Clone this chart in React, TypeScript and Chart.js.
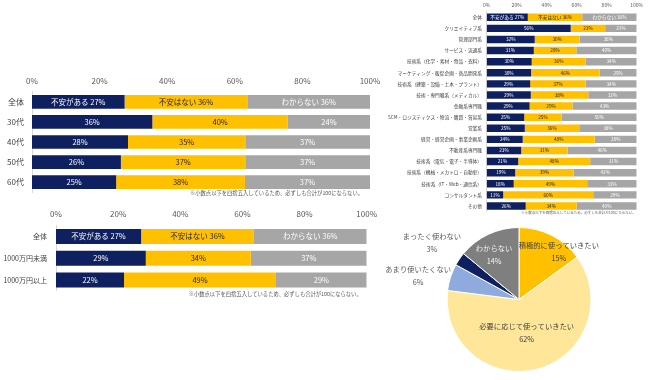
import React, { useEffect, useRef } from "react";
import { Chart, registerables } from "chart.js";

Chart.register(...registerables);

const FONT = '"Noto Sans CJK JP", "Noto Sans", sans-serif';

// ---- shared ----
const seriesNames = ["不安がある", "不安はない", "わからない"];
const seriesColors = ["#0F2060", "#FFC000", "#A6A6A6"];
const valueTextColors = ["#FFFFFF", "#262626", "#FFFFFF"];
const percentTicks = ["0%", "20%", "40%", "60%", "80%", "100%"];
const roundingNote = "※小数点以下を四捨五入しているため、必ずしも合計が100にならない。";

// ---- chart 1: by age ----
const ageCategories = ["全体", "30代", "40代", "50代", "60代"];
const ageAnxious = [27.4, 35.6, 28.4, 26.3, 24.9];
const ageNotAnxious = [36.3, 40.1, 34.7, 36.8, 38.1];
const ageUnknown = [36.3, 24.3, 36.9, 36.9, 37.0];

// ---- chart 2: by income ----
const incomeCategories = ["全体", "1000万円未満", "1000万円以上"];
const incomeAnxious = [27.4, 28.9, 21.9];
const incomeNotAnxious = [36.3, 33.8, 48.9];
const incomeUnknown = [36.3, 37.3, 29.2];

// ---- chart 3: by job type ----
const jobCategories = [
  "全体",
  "クリエイティブ系",
  "管理部門系",
  "サービス・流通系",
  "技術系（化学・素材・食品・衣料）",
  "マーケティング・販促企画・商品開発系",
  "技術系（建築・設備・土木・プラント）",
  "技術・専門職系（メディカル）",
  "金融系専門職",
  "SCM・ロジスティクス・物流・購買・貿易系",
  "営業系",
  "経営・経営企画・事業企画系",
  "不動産系専門職",
  "技術系（電気・電子・半導体）",
  "技術系（機械・メカトロ・自動車）",
  "技術系（IT・Web・通信系）",
  "コンサルタント系",
  "その他",
];
const jobAnxious = [27.4, 56, 32, 31.4, 30, 29.6, 29, 29.4, 28.6, 25, 25.4, 24, 23, 21, 19, 18, 11, 26];
const jobNotAnxious = [36.3, 23, 30, 28.4, 36, 45.7, 37, 38.3, 28.6, 25, 36.3, 48, 31, 48, 39, 49, 60, 34];
const jobUnknown = [36.3, 21, 38, 40.2, 34, 24.7, 34, 32.3, 42.8, 50, 38.3, 28, 46, 31, 42, 33, 29, 40];

// ---- chart 4: pie ----
const usageLabels = ["積極的に使っていきたい", "必要に応じて使っていきたい", "あまり使いたくない", "まったく使わない", "わからない"];
const usageValues = [15, 62, 6, 3, 14];
const usageColors = ["#FFC000", "#FFE699", "#8FAADC", "#0F2060", "#7F7F7F"];
const usageTextColors = ["#404040", "#404040", "#595959", "#595959", "#F2F2F2"];

const valueLabels = {
  id: "valueLabels",
  afterDatasetsDraw(chart: any, _args: any, opts: any) {
    const ctx = chart.ctx;
    ctx.save();
    ctx.font = `${opts.size}px ${FONT}`;
    ctx.textAlign = "center";
    ctx.textBaseline = "middle";
    chart.data.datasets.forEach((ds: any, di: number) => {
      const meta = chart.getDatasetMeta(di);
      meta.data.forEach((el: any, i: number) => {
        const p = el.getProps(["x", "y", "base"], true);
        const v = ds.data[i];
        const text = (i === 0 ? ds.label + " " : "") + Math.round(v) + "%";
        ctx.fillStyle = valueTextColors[di];
        ctx.fillText(text, (p.x + p.base) / 2, p.y);
      });
    });
    const area = chart.chartArea;
    ctx.font = `${opts.noteSize}px ${FONT}`;
    ctx.textAlign = "right";
    ctx.fillStyle = "#595959";
    ctx.fillText(roundingNote, area.right - opts.noteRight, area.bottom + opts.noteDy);
    ctx.restore();
  },
};

const pieLabels = {
  id: "pieLabels",
  afterDatasetsDraw(chart: any, _args: any, opts: any) {
    const ctx = chart.ctx;
    ctx.save();
    ctx.font = `${opts.size}px ${FONT}`;
    ctx.textAlign = "center";
    ctx.textBaseline = "middle";
    const meta = chart.getDatasetMeta(0);
    meta.data.forEach((el: any, i: number) => {
      const p = el.getProps(["x", "y", "startAngle", "endAngle", "outerRadius"], true);
      const [f, off] = opts.place[i];
      const a = (p.startAngle + p.endAngle) / 2 + (off * Math.PI) / 180;
      const cx = p.x + Math.cos(a) * p.outerRadius * f;
      const cy = p.y + Math.sin(a) * p.outerRadius * f;
      ctx.fillStyle = usageTextColors[i];
      ctx.fillText(chart.data.labels[i], cx, cy - opts.gap / 2);
      ctx.fillText(chart.data.datasets[0].data[i] + "%", cx, cy + opts.gap / 2);
    });
    ctx.restore();
  },
};

type BarSpec = {
  categories: string[];
  series: number[][];
  w: number;
  h: number;
  area: { left: number; top: number; right: number; bottom: number };
  tickSize: number;
  catSize: number;
  valSize: number;
  tickGap: number;
  catGap: number;
  bar: number;
  noteSize: number;
  noteDy: number;
  noteRight: number;
};

function makeBar(canvas: HTMLCanvasElement, s: BarSpec) {
  return new Chart(canvas, {
    type: "bar",
    data: {
      labels: s.categories,
      datasets: s.series.map((d, i) => ({
        label: seriesNames[i],
        data: d,
        backgroundColor: seriesColors[i],
        borderWidth: 0,
        barPercentage: s.bar,
        categoryPercentage: 1,
      })),
    },
    options: {
      indexAxis: "y",
      responsive: false,
      animation: false,
      devicePixelRatio: 1,
      layout: { padding: { left: 0, top: 0, right: s.w - s.area.right, bottom: s.h - s.area.bottom } },
      scales: {
        x: {
          position: "top",
          stacked: true,
          min: 0,
          max: 100,
          grid: { display: false, drawTicks: false },
          border: { display: false },
          ticks: {
            stepSize: 20,
            callback: (_v: any, i: number) => percentTicks[i],
            font: { family: FONT, size: s.tickSize },
            color: "#595959",
            padding: s.tickGap,
            maxRotation: 0,
          },
          afterFit: (sc: any) => {
            sc.height = s.area.top;
          },
        },
        y: {
          stacked: true,
          grid: { display: false, drawTicks: false },
          border: { display: true, color: "#D9D9D9", width: 1 },
          ticks: {
            font: { family: FONT, size: s.catSize },
            color: "#404040",
            padding: s.catGap,
            autoSkip: false,
          },
          afterFit: (sc: any) => {
            sc.width = s.area.left;
          },
        },
      },
      plugins: {
        legend: { display: false },
        tooltip: { enabled: false },
        valueLabels: { size: s.valSize, noteSize: s.noteSize, noteDy: s.noteDy, noteRight: s.noteRight },
      } as any,
    },
    plugins: [valueLabels],
  } as any);
}

function makePie(canvas: HTMLCanvasElement) {
  return new Chart(canvas, {
    type: "pie",
    data: {
      labels: usageLabels,
      datasets: [
        {
          data: usageValues,
          backgroundColor: usageColors,
          borderColor: "#FFFFFF",
          borderWidth: 1,
        },
      ],
    },
    options: {
      responsive: false,
      animation: false,
      devicePixelRatio: 1,
      radius: 72,
      layout: { padding: { left: 67, right: 59, top: 7, bottom: 8 } },
      plugins: {
        legend: { display: false },
        tooltip: { enabled: false },
        pieLabels: {
          size: 7.3,
          gap: 13,
          place: [
            [0.86, 13],
            [0.47, 1.3],
            [1.44, -4.6],
            [1.44, -1.3],
            [0.71, -4],
          ],
        },
      } as any,
    },
    plugins: [pieLabels],
  } as any);
}

const spec1: BarSpec = {
  categories: ageCategories,
  series: [ageAnxious, ageNotAnxious, ageUnknown],
  w: 390,
  h: 135,
  area: { left: 32, top: 21.75, right: 370, bottom: 124.25 },
  tickSize: 8,
  catSize: 8,
  valSize: 7.5,
  tickGap: 6,
  catGap: 8,
  bar: 0.68,
  noteSize: 5.3,
  noteDy: 1,
  noteRight: 7,
};

const spec2: BarSpec = {
  categories: incomeCategories,
  series: [incomeAnxious, incomeNotAnxious, incomeUnknown],
  w: 390,
  h: 105,
  area: { left: 56, top: 25.7, right: 366.7, bottom: 90.8 },
  tickSize: 8,
  catSize: 7,
  valSize: 7.5,
  tickGap: 6.9,
  catGap: 9,
  bar: 0.69,
  noteSize: 5.3,
  noteDy: 3.2,
  noteRight: 5,
};

const spec3: BarSpec = {
  categories: jobCategories,
  series: [jobAnxious, jobNotAnxious, jobUnknown],
  w: 265,
  h: 222,
  area: { left: 101.7, top: 11.75, right: 251.7, bottom: 211.5 },
  tickSize: 5,
  catSize: 4.7,
  valSize: 4.7,
  tickGap: 4,
  catGap: 4.7,
  bar: 0.67,
  noteSize: 3.5,
  noteDy: 1,
  noteRight: 1,
};

export default function App() {
  const r1 = useRef<HTMLCanvasElement>(null);
  const r2 = useRef<HTMLCanvasElement>(null);
  const r3 = useRef<HTMLCanvasElement>(null);
  const r4 = useRef<HTMLCanvasElement>(null);

  useEffect(() => {
    const charts = [
      makeBar(r1.current!, spec1),
      makeBar(r2.current!, spec2),
      makeBar(r3.current!, spec3),
      makePie(r4.current!),
    ];
    return () => charts.forEach((c) => c.destroy());
  }, []);

  const pos = (l: number, t: number): React.CSSProperties => ({ position: "absolute", left: l, top: t });

  return (
    <div style={{ position: "absolute", left: 0, top: 0, width: 650, height: 380, background: "#FFFFFF", overflow: "hidden" }}>
      <canvas ref={r1} width={390} height={135} style={pos(0, 70)} />
      <canvas ref={r2} width={390} height={105} style={pos(0, 200)} />
      <canvas ref={r3} width={265} height={222} style={pos(385, 0)} />
      <canvas ref={r4} width={270} height={160} style={pos(380, 220)} />
    </div>
  );
}
